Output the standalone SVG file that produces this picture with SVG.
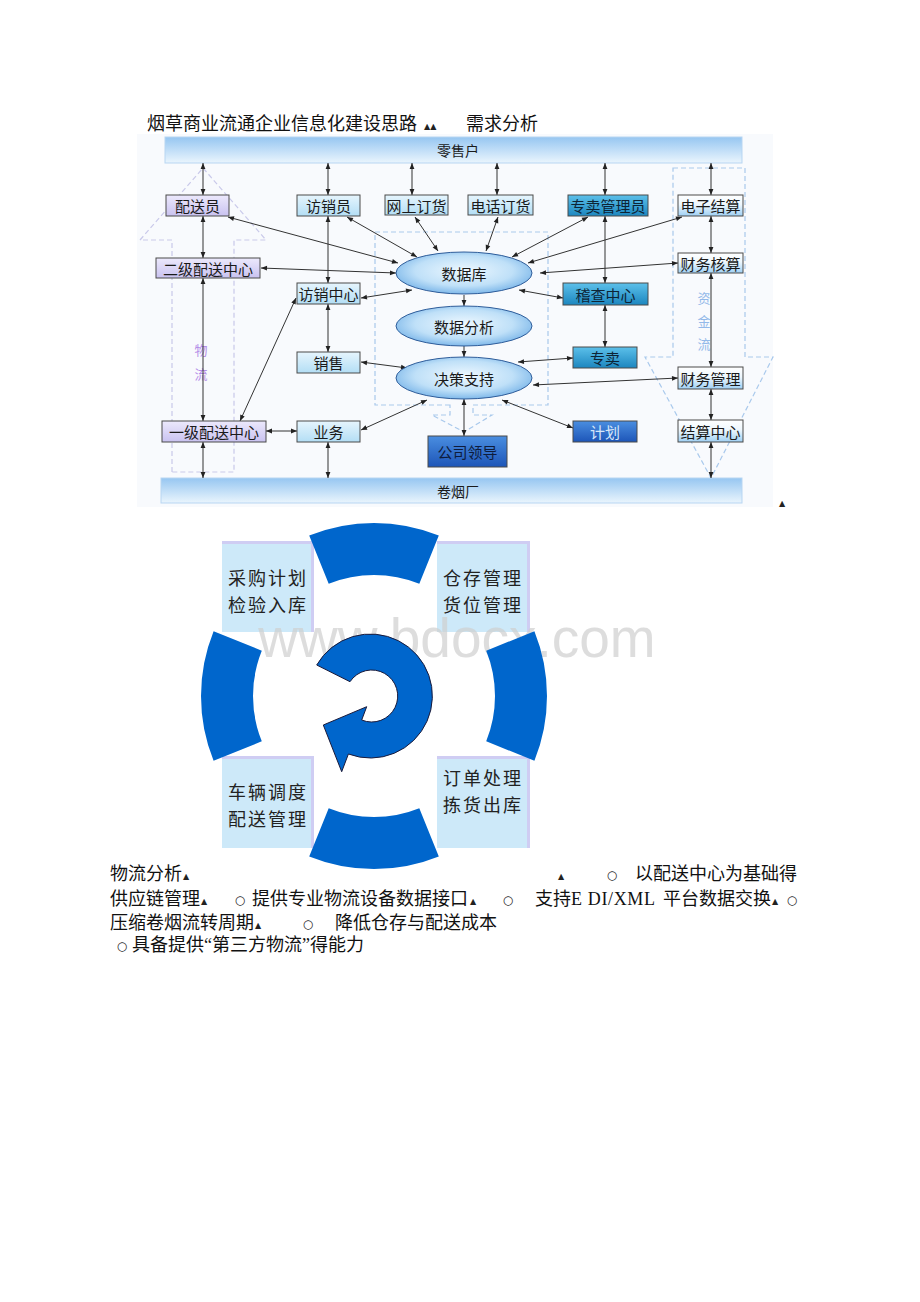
<svg xmlns="http://www.w3.org/2000/svg" width="920" height="1302" viewBox="0 0 920 1302">
<defs>
<style>
.t{font-family:"Noto Sans CJK SC","Noto Sans",sans-serif;font-size:15px;fill:#1a1a1a;text-anchor:middle;dominant-baseline:central}
.s{font-family:"Liberation Serif","Noto Sans CJK SC",serif;font-size:18px;fill:#111}
.m{font-family:"DejaVu Sans",sans-serif;font-size:8px;fill:#222}
.o{font-family:"DejaVu Sans",sans-serif;font-size:12px;fill:#222;text-anchor:middle}
.c{stroke:#333;stroke-width:1;fill:none;marker-start:url(#ah);marker-end:url(#ah)}
.c1{stroke:#333;stroke-width:1;fill:none;marker-end:url(#ah)}
.bx{stroke:#4a4a4a;stroke-width:1}
.dsh{fill:none;stroke:#a9c9ec;stroke-width:1.2;stroke-dasharray:5 3}
.dshp{fill:none;stroke:#c9c9ea;stroke-width:1.2;stroke-dasharray:5 3}
.cb{fill:#cde9f9}
.cl{stroke:#cfcdf3;stroke-width:3;fill:none}
.ct{font-family:"Noto Sans CJK SC","Noto Sans",sans-serif;font-size:18px;letter-spacing:2px;fill:#222;text-anchor:middle;dominant-baseline:central}
.ring{fill:#0066cc}
</style>
<marker id="ah" viewBox="0 0 10 10" refX="10" refY="5" markerWidth="7" markerHeight="6" markerUnits="userSpaceOnUse" orient="auto-start-reverse"><path d="M0,1 L10,5 L0,9 Z" fill="#222"/></marker>
<linearGradient id="gLav" x1="0" y1="0" x2="0" y2="1"><stop offset="0" stop-color="#ece9fc"/><stop offset="1" stop-color="#c9c2f0"/></linearGradient>
<linearGradient id="gLb" x1="0" y1="0" x2="0" y2="1"><stop offset="0" stop-color="#e6f5fd"/><stop offset="1" stop-color="#b3def5"/></linearGradient>
<linearGradient id="gTeal" x1="0" y1="0" x2="0" y2="1"><stop offset="0" stop-color="#5cc0ea"/><stop offset="1" stop-color="#1c86bf"/></linearGradient>
<linearGradient id="gBlue" x1="0" y1="0" x2="0" y2="1"><stop offset="0" stop-color="#4a8ee0"/><stop offset="1" stop-color="#1d55b8"/></linearGradient>
<linearGradient id="gWb" x1="0" y1="0" x2="0" y2="1"><stop offset="0" stop-color="#ffffff"/><stop offset="0.45" stop-color="#eef7fd"/><stop offset="1" stop-color="#9fd0f4"/></linearGradient>
<linearGradient id="gBar" x1="0" y1="0" x2="0" y2="1"><stop offset="0" stop-color="#96c6f1"/><stop offset="1" stop-color="#eaf5fd"/></linearGradient>
<radialGradient id="gEl" cx="0.5" cy="0.45" r="0.6"><stop offset="0" stop-color="#eef8ff"/><stop offset="0.6" stop-color="#bfe0f8"/><stop offset="1" stop-color="#6eaee6"/></radialGradient>
</defs>

<rect x="0" y="0" width="920" height="1302" fill="#ffffff"/>

<!-- title -->
<text class="s" x="147" y="130">烟草商业流通企业信息化建设思路</text>
<text class="m" x="424" y="129">▲▲</text>
<text class="s" x="466" y="130">需求分析</text>

<!-- panel -->
<rect x="137" y="134" width="636" height="373" fill="#f8fafd"/>

<!-- flow arrows (dashed) -->
<g id="flow-logistics">
<path class="dshp" d="M172,472 V240 H140 L203,168 L266,240 H234 V472 Z"/>
<text x="201" y="349" style="font-family:'Noto Sans CJK SC',sans-serif;font-size:13px;fill:#b48ee8;text-anchor:middle;dominant-baseline:central">物</text>
<text x="201" y="373" style="font-family:'Noto Sans CJK SC',sans-serif;font-size:13px;fill:#b48ee8;text-anchor:middle;dominant-baseline:central">流</text>
</g>
<g id="flow-capital">
<path class="dsh" d="M673,168 H745 V357 H773 L711,478 L645,357 H673 Z"/>
<text x="704" y="297" style="font-family:'Noto Sans CJK SC',sans-serif;font-size:13px;fill:#93b9e9;text-anchor:middle;dominant-baseline:central">资</text>
<text x="704" y="320" style="font-family:'Noto Sans CJK SC',sans-serif;font-size:13px;fill:#93b9e9;text-anchor:middle;dominant-baseline:central">金</text>
<text x="704" y="343" style="font-family:'Noto Sans CJK SC',sans-serif;font-size:13px;fill:#93b9e9;text-anchor:middle;dominant-baseline:central">流</text>
</g>
<g id="flow-center">
<path class="dsh" d="M450,405 H375 V232 H548 V405 H473 V415 H492 L464,432 L432,415 H450 Z"/>
</g>

<!-- bars -->
<g id="retail"><rect x="165" y="137" width="577" height="26" fill="url(#gBar)" stroke="#b7d5f2" stroke-width="1"/><text class="t" x="458" y="150" style="font-size:14px">零售户</text></g>
<g id="factory"><rect x="161" y="478" width="581" height="25" fill="url(#gBar)" stroke="#b7d5f2" stroke-width="1"/><text class="t" x="458" y="491" style="font-size:14px">卷烟厂</text></g>

<!-- connectors -->
<g id="connectors">
<line class="c" x1="203" y1="163" x2="203" y2="195"/>
<line class="c" x1="328" y1="163" x2="328" y2="195"/>
<line class="c" x1="412" y1="163" x2="412" y2="195"/>
<line class="c" x1="497" y1="163" x2="497" y2="195"/>
<line class="c" x1="605" y1="163" x2="605" y2="195"/>
<line class="c" x1="711" y1="163" x2="711" y2="195"/>
<line class="c" x1="203" y1="216" x2="203" y2="258"/>
<line class="c" x1="203" y1="278" x2="203" y2="421"/>
<line class="c" x1="203" y1="442" x2="203" y2="478"/>
<line class="c" x1="328" y1="216" x2="328" y2="283"/>
<line class="c" x1="328" y1="304" x2="328" y2="352"/>
<line class="c" x1="328" y1="442" x2="328" y2="478"/>
<line class="c" x1="605" y1="216" x2="605" y2="283"/>
<line class="c" x1="605" y1="305" x2="605" y2="347"/>
<line class="c" x1="711" y1="216" x2="711" y2="253"/>
<line class="c" x1="711" y1="273" x2="711" y2="367"/>
<line class="c" x1="711" y1="389" x2="711" y2="420"/>
<line class="c" x1="711" y1="442" x2="711" y2="478"/>
<line class="c1" x1="464" y1="295" x2="464" y2="306"/>
<line class="c1" x1="464" y1="346" x2="464" y2="357"/>
<line class="c" x1="464" y1="399" x2="464" y2="436"/>
<line class="c" x1="228" y1="217" x2="398" y2="263"/>
<line class="c" x1="261" y1="268" x2="396" y2="273"/>
<line class="c" x1="347" y1="217" x2="417" y2="257"/>
<line class="c" x1="415" y1="217" x2="438" y2="251"/>
<line class="c" x1="498" y1="217" x2="486" y2="251"/>
<line class="c" x1="588" y1="217" x2="512" y2="257"/>
<line class="c" x1="682" y1="217" x2="528" y2="263"/>
<line class="c" x1="678" y1="263" x2="540" y2="273"/>
<line class="c" x1="361" y1="298" x2="412" y2="290"/>
<line class="c" x1="519" y1="290" x2="563" y2="298"/>
<line class="c" x1="296" y1="298" x2="240" y2="421"/>
<line class="c" x1="361" y1="362" x2="407" y2="368"/>
<line class="c" x1="518" y1="362" x2="573" y2="358"/>
<line class="c" x1="533" y1="385" x2="678" y2="378"/>
<line class="c" x1="361" y1="430" x2="427" y2="400"/>
<line class="c" x1="502" y1="400" x2="573" y2="428"/>
<line class="c" x1="266" y1="431" x2="297" y2="431"/>
</g>

<!-- nodes -->
<g id="n-peisongyuan"><rect class="bx" x="166" y="195" width="63" height="21" fill="url(#gLav)"/><text class="t" x="197.5" y="205.5">配送员</text></g>
<g id="n-erji"><rect class="bx" x="156" y="258" width="104" height="20" fill="url(#gLav)"/><text class="t" x="208" y="268">二级配送中心</text></g>
<g id="n-yiji"><rect class="bx" x="162" y="421" width="104" height="21" fill="url(#gLav)"/><text class="t" x="214" y="431.5">一级配送中心</text></g>
<g id="n-fangxiaoyuan"><rect class="bx" x="297" y="195" width="63" height="21" fill="url(#gLb)"/><text class="t" x="328.5" y="205.5">访销员</text></g>
<g id="n-fangxiaozhongxin"><rect class="bx" x="297" y="283" width="63" height="21" fill="url(#gLb)"/><text class="t" x="328.5" y="293.5">访销中心</text></g>
<g id="n-xiaoshou"><rect class="bx" x="297" y="352" width="63" height="21" fill="url(#gLb)"/><text class="t" x="328.5" y="362.5">销售</text></g>
<g id="n-yewu"><rect class="bx" x="297" y="421" width="63" height="21" fill="url(#gLb)"/><text class="t" x="328.5" y="431.5">业务</text></g>
<g id="n-wangshang"><rect class="bx" x="385" y="195" width="63" height="20" fill="url(#gLb)"/><text class="t" x="416.5" y="205">网上订货</text></g>
<g id="n-dianhua"><rect class="bx" x="468" y="195" width="65" height="20" fill="url(#gLb)"/><text class="t" x="500.5" y="205">电话订货</text></g>
<g id="n-zhuanmaiguanli"><rect class="bx" x="568" y="195" width="80" height="21" fill="url(#gTeal)"/><text class="t" x="608" y="205.5" style="fill:#0d2436">专卖管理员</text></g>
<g id="n-jicha"><rect class="bx" x="563" y="283" width="85" height="22" fill="url(#gTeal)"/><text class="t" x="605.5" y="294" style="fill:#0d2436">稽查中心</text></g>
<g id="n-zhuanmai"><rect class="bx" x="573" y="347" width="64" height="21" fill="url(#gTeal)"/><text class="t" x="605" y="357.5" style="fill:#0d2436">专卖</text></g>
<g id="n-jihua"><rect class="bx" x="573" y="421" width="64" height="21" fill="url(#gBlue)"/><text class="t" x="605" y="431.5" style="fill:#d6e6f8">计划</text></g>
<g id="n-lingdao"><rect class="bx" x="428" y="436" width="79" height="31" fill="url(#gBlue)"/><text class="t" x="467.5" y="451.5" style="fill:#0e1c3c">公司领导</text></g>
<g id="n-dianzi"><rect class="bx" x="678" y="195" width="65" height="21" fill="url(#gWb)"/><text class="t" x="710.5" y="205.5">电子结算</text></g>
<g id="n-hesuan"><rect class="bx" x="678" y="253" width="65" height="20" fill="url(#gWb)"/><text class="t" x="710.5" y="263">财务核算</text></g>
<g id="n-caiwu"><rect class="bx" x="678" y="367" width="65" height="22" fill="url(#gWb)"/><text class="t" x="710.5" y="378">财务管理</text></g>
<g id="n-jiesuan"><rect class="bx" x="678" y="420" width="65" height="22" fill="url(#gWb)"/><text class="t" x="710.5" y="431">结算中心</text></g>
<g id="n-shujuku"><ellipse cx="464" cy="273" rx="68" ry="21" fill="url(#gEl)" stroke="#2f5d9a" stroke-width="1"/><text class="t" x="464" y="273">数据库</text></g>
<g id="n-fenxi"><ellipse cx="464" cy="326" rx="68" ry="20" fill="url(#gEl)" stroke="#2f5d9a" stroke-width="1"/><text class="t" x="464" y="326">数据分析</text></g>
<g id="n-juece"><ellipse cx="464" cy="378" rx="68" ry="21" fill="url(#gEl)" stroke="#2f5d9a" stroke-width="1"/><text class="t" x="464" y="378">决策支持</text></g>
<text class="m" x="779" y="506">▲</text>

<!-- cycle diagram -->
<g id="box-caigou"><rect class="cb" x="222" y="542" width="91" height="90"/><path class="cl" d="M222,542.5 H312.5 V632"/><text class="ct" x="268" y="577">采购计划</text><text class="ct" x="268" y="604">检验入库</text></g>
<g id="box-cangcun"><rect class="cb" x="437" y="542" width="92" height="90"/><path class="cl" d="M437,542.5 H528.5 V632"/><text class="ct" x="483" y="577">仓存管理</text><text class="ct" x="483" y="604">货位管理</text></g>
<g id="box-cheliang"><rect class="cb" x="222" y="757" width="91" height="91"/><path class="cl" d="M222,757.5 H312.5 V848"/><text class="ct" x="268" y="791">车辆调度</text><text class="ct" x="268" y="818">配送管理</text></g>
<g id="box-dingdan"><rect class="cb" x="437" y="757" width="92" height="91"/><path class="cl" d="M437,757.5 H528.5 V848"/><text class="ct" x="483" y="777">订单处理</text><text class="ct" x="483" y="804">拣货出库</text></g>

<text x="457" y="657" style="font-family:'Liberation Sans',Arial,sans-serif;font-size:55px;fill:#cfcfcf;fill-opacity:0.7;text-anchor:middle">www.bdocx.com</text>

<g id="ring">
<path class="ring" d="M309.2,535.6 A173,173 0 0 1 438.8,535.6 L419.3,583.8 A121,121 0 0 0 328.7,583.8 Z"/>
<path class="ring" d="M309.2,856.4 A173,173 0 0 0 438.8,856.4 L419.3,808.2 A121,121 0 0 1 328.7,808.2 Z"/>
<path class="ring" d="M213.6,631.2 A173,173 0 0 0 213.6,760.8 L261.8,741.3 A121,121 0 0 1 261.8,650.7 Z"/>
<path class="ring" d="M534.4,631.2 A173,173 0 0 1 534.4,760.8 L486.2,741.3 A121,121 0 0 0 486.2,650.7 Z"/>
</g>
<g id="cycle-arrow">
<path d="M316.7,665 A62,62 0 1 1 348.4,754 L341.7,771.7 L323.3,725 L366.7,706.7 L361.7,720 A26,26 0 1 0 350,681.7 Z" fill="#0066cc" stroke="#1a1a3a" stroke-width="1"/>
</g>

<!-- bottom text -->
<g id="notes">
<text class="s" x="110" y="880">物流分析</text><text class="m" x="183" y="879">▲</text>
<text class="m" x="558" y="879">▲</text><text class="o" x="612" y="879">○</text>
<text class="s" x="635" y="880">以配送中心为基础得</text>
<text class="s" x="110" y="905">供应链管理</text><text class="m" x="201" y="904">▲</text>
<text class="o" x="240" y="904">○</text>
<text class="s" x="252" y="905">提供专业物流设备数据接口</text><text class="m" x="470" y="904">▲</text>
<text class="o" x="508" y="904">○</text>
<text class="s" x="535" y="905">支持</text>
<text class="s" x="571" y="905" textLength="84" lengthAdjust="spacing">E DI/XML</text>
<text class="s" x="663" y="905">平台数据交换</text><text class="m" x="772" y="904">▲</text>
<text class="o" x="792" y="904">○</text>
<text class="s" x="110" y="929">压缩卷烟流转周期</text><text class="m" x="255" y="928">▲</text>
<text class="o" x="308" y="928">○</text>
<text class="s" x="335" y="929">降低仓存与配送成本</text>
<text class="o" x="122" y="950">○</text>
<text class="s" x="132" y="951">具备提供“第三方物流”得能力</text>
</g>
</svg>
